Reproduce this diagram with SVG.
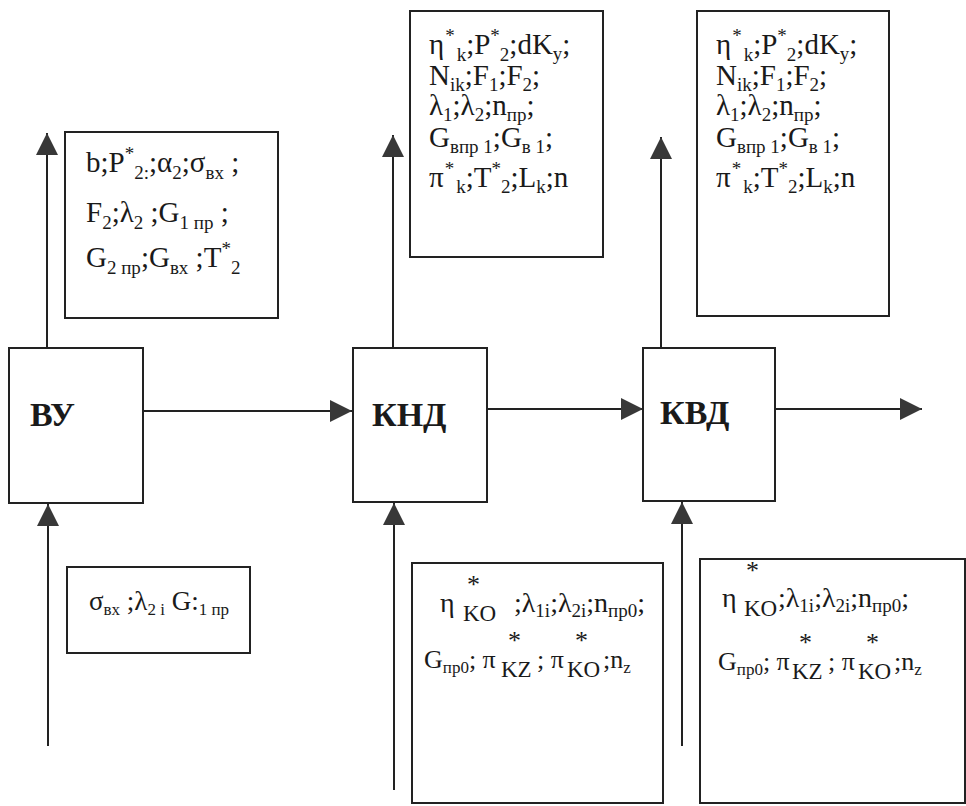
<svg xmlns="http://www.w3.org/2000/svg" width="966" height="806" viewBox="0 0 966 806">
<style>
.bx{fill:#fff;stroke:#222;stroke-width:2}
.ln{stroke:#222;stroke-width:2;fill:none}
text{font-family:"Liberation Serif","Times New Roman",serif;fill:#1a1a1a}
.m{font-size:29px}
.s{font-size:19px}
.b{font-size:34px;font-weight:bold}
.st{font-size:26px}
.k{font-size:23px}
.bm{font-size:27px}
.bl{font-size:28px}
.bm2{font-size:26px}
.bs{font-size:17px}
.bs2{font-size:19px}
</style>
<defs>
<marker id="ah" markerUnits="userSpaceOnUse" markerWidth="22" markerHeight="22" refX="22" refY="11" orient="auto" viewBox="0 0 22 22">
<path d="M0,0 L22,11 L0,22 z" fill="#383838"/>
</marker>
</defs>
<rect width="966" height="806" fill="#fff"/>

<g id="connectors">
<line class="ln" x1="143" y1="411" x2="352" y2="411" marker-end="url(#ah)"/>
<line class="ln" x1="487" y1="409" x2="643" y2="409" marker-end="url(#ah)"/>
<line class="ln" x1="775" y1="409" x2="922" y2="409" marker-end="url(#ah)"/>
<line class="ln" x1="47" y1="348" x2="47" y2="133" marker-end="url(#ah)"/>
<line class="ln" x1="393" y1="348" x2="393" y2="135" marker-end="url(#ah)"/>
<line class="ln" x1="661" y1="348" x2="661" y2="137" marker-end="url(#ah)"/>
<line class="ln" x1="48" y1="746" x2="48" y2="504" marker-end="url(#ah)"/>
<line class="ln" x1="394" y1="790" x2="394" y2="503" marker-end="url(#ah)"/>
<line class="ln" x1="682" y1="746" x2="682" y2="502" marker-end="url(#ah)"/>
</g>

<g id="vu">
<rect class="bx" x="9" y="348" width="134" height="155"/>
<text class="b" x="30" y="426">ВУ</text>
</g>
<g id="knd">
<rect class="bx" x="353" y="348" width="134" height="154"/>
<text class="b" x="372" y="426">КНД</text>
</g>
<g id="kvd">
<rect class="bx" x="643" y="348" width="132" height="153"/>
<text class="b" x="660" y="424">КВД</text>
</g>

<g id="vu-out">
<rect class="bx" x="65" y="132" width="213" height="186"/>
<text class="m" x="86" y="172">b;P<tspan class="s" dy="-12">*</tspan><tspan class="s" dy="19">2:</tspan><tspan dy="-7">;α</tspan><tspan class="s" dy="7">2</tspan><tspan dy="-7">;σ</tspan><tspan class="s" dy="7">вх</tspan><tspan dy="-7"> ;</tspan></text>
<text class="m" x="86" y="222">F<tspan class="s" dy="7">2</tspan><tspan dy="-7">;λ</tspan><tspan class="s" dy="7">2</tspan><tspan dy="-7"> ;G</tspan><tspan class="s" dy="7">1 пр</tspan><tspan dy="-7"> ;</tspan></text>
<text class="m" x="86" y="267">G<tspan class="s" dy="7">2 пр</tspan><tspan dy="-7">;G</tspan><tspan class="s" dy="7">вх</tspan><tspan dy="-7"> ;T</tspan><tspan class="s" dy="-12">*</tspan><tspan class="s" dy="19">2</tspan></text>
</g>

<g id="knd-out">
<rect class="bx" x="410" y="11" width="193" height="246"/>
<text class="m" x="429" y="54">η<tspan class="s" dx="1" dy="-12">*</tspan><tspan class="s" dx="2" dy="19">k</tspan><tspan dy="-7">;P</tspan><tspan class="s" dy="-12">*</tspan><tspan class="s" dy="19">2</tspan><tspan dy="-7">;dK</tspan><tspan class="s" dy="6">y</tspan><tspan dy="-6">;</tspan></text>
<text class="m" x="429" y="85">N<tspan class="s" dy="6">ik</tspan><tspan dy="-6">;F</tspan><tspan class="s" dy="6">1</tspan><tspan dy="-6">;F</tspan><tspan class="s" dy="6">2</tspan><tspan dy="-6">;</tspan></text>
<text class="m" x="429" y="115">λ<tspan class="s" dy="6">1</tspan><tspan dy="-6">;λ</tspan><tspan class="s" dy="6">2</tspan><tspan dy="-6">;n</tspan><tspan class="s" dy="6">пр</tspan><tspan dy="-6">;</tspan></text>
<text class="m" x="429" y="147">G<tspan class="s" dy="6">впр 1</tspan><tspan dy="-6">;G</tspan><tspan class="s" dy="6">в 1</tspan><tspan dy="-6">;</tspan></text>
<text class="m" x="429" y="187">π<tspan class="s" dx="1" dy="-12">*</tspan><tspan class="s" dx="2" dy="18">k</tspan><tspan dy="-6">;T</tspan><tspan class="s" dy="-12">*</tspan><tspan class="s" dy="18">2</tspan><tspan dy="-6">;L</tspan><tspan class="s" dy="6">k</tspan><tspan dy="-6">;n</tspan></text>
</g>

<g id="kvd-out">
<rect class="bx" x="697" y="11" width="192" height="305"/>
<text class="m" x="716" y="54">η<tspan class="s" dx="1" dy="-12">*</tspan><tspan class="s" dx="2" dy="19">k</tspan><tspan dy="-7">;P</tspan><tspan class="s" dy="-12">*</tspan><tspan class="s" dy="19">2</tspan><tspan dy="-7">;dK</tspan><tspan class="s" dy="6">y</tspan><tspan dy="-6">;</tspan></text>
<text class="m" x="716" y="85">N<tspan class="s" dy="6">ik</tspan><tspan dy="-6">;F</tspan><tspan class="s" dy="6">1</tspan><tspan dy="-6">;F</tspan><tspan class="s" dy="6">2</tspan><tspan dy="-6">;</tspan></text>
<text class="m" x="716" y="115">λ<tspan class="s" dy="6">1</tspan><tspan dy="-6">;λ</tspan><tspan class="s" dy="6">2</tspan><tspan dy="-6">;n</tspan><tspan class="s" dy="6">пр</tspan><tspan dy="-6">;</tspan></text>
<text class="m" x="716" y="147">G<tspan class="s" dy="6">впр 1</tspan><tspan dy="-6">;G</tspan><tspan class="s" dy="6">в 1</tspan><tspan dy="-6">;</tspan></text>
<text class="m" x="716" y="187">π<tspan class="s" dx="1" dy="-12">*</tspan><tspan class="s" dx="2" dy="18">k</tspan><tspan dy="-6">;T</tspan><tspan class="s" dy="-12">*</tspan><tspan class="s" dy="18">2</tspan><tspan dy="-6">;L</tspan><tspan class="s" dy="6">k</tspan><tspan dy="-6">;n</tspan></text>
</g>

<g id="vu-in">
<rect class="bx" x="67" y="567" width="183" height="86"/>
<text class="bm" x="89" y="610">σ<tspan class="bs" dy="5">вх</tspan><tspan dy="-5"> ;λ</tspan><tspan class="bs" dy="5">2 i</tspan><tspan dy="-5"> G:</tspan><tspan class="bs" dy="5">1 пр</tspan></text>
</g>

<g id="knd-in">
<rect class="bx" x="412" y="563" width="251" height="240"/>
<text class="bl" x="440" y="612">η</text>
<text class="st" x="467" y="593">*</text>
<text class="k" x="463" y="621">KO</text>
<text class="bl" x="514" y="612">;λ<tspan class="bs2" dy="5">1i</tspan><tspan dy="-5">;λ</tspan><tspan class="bs2" dy="5">2i</tspan><tspan dy="-5">;n</tspan><tspan class="bs2" dy="5">пр0</tspan><tspan dy="-5">;</tspan></text>
<text class="bm2" x="424" y="668">G<tspan class="bs" dy="5">пр0</tspan><tspan dy="-5">; π</tspan></text>
<text class="st" x="508" y="649">*</text>
<text class="k" x="501" y="677">KZ</text>
<text class="bm2" x="537" y="668">; π</text>
<text class="st" x="575" y="649">*</text>
<text class="k" x="567" y="677">KO</text>
<text class="bm2" x="603" y="668">;n<tspan class="bs" dy="5">z</tspan></text>
</g>

<g id="kvd-in">
<rect class="bx" x="700" y="559" width="265" height="244"/>
<text class="bl" x="722" y="607">η</text>
<text class="st" x="746" y="579">*</text>
<text class="k" x="744" y="616">KO</text>
<text class="bl" x="778" y="607">;λ<tspan class="bs2" dy="5">1i</tspan><tspan dy="-5">;λ</tspan><tspan class="bs2" dy="5">2i</tspan><tspan dy="-5">;n</tspan><tspan class="bs2" dy="5">пр0</tspan><tspan dy="-5">;</tspan></text>
<text class="bm2" x="718" y="670">G<tspan class="bs" dy="5">пр0</tspan><tspan dy="-5">; π</tspan></text>
<text class="st" x="799" y="651">*</text>
<text class="k" x="792" y="679">KZ</text>
<text class="bm2" x="828" y="670">; π</text>
<text class="st" x="866" y="651">*</text>
<text class="k" x="858" y="679">KO</text>
<text class="bm2" x="894" y="670">;n<tspan class="bs" dy="5">z</tspan></text>
</g>
</svg>
